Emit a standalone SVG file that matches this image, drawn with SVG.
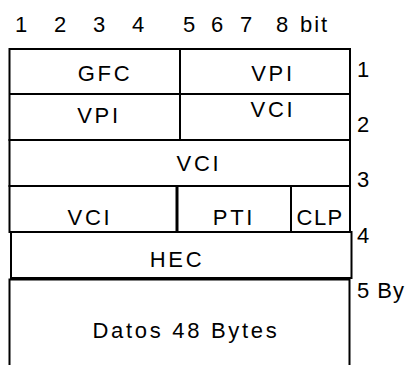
<svg xmlns="http://www.w3.org/2000/svg" width="413" height="365" viewBox="0 0 413 365">
<style>
  .box { fill: none; stroke: #000; stroke-width: 2; }
  .ln { stroke: #000; stroke-width: 2; fill: none; }
  .t { font-family: "Liberation Sans", Arial, sans-serif; font-size: 22px; fill: #000; }
  .c { text-anchor: middle; letter-spacing: 2.7px; }
</style>
<rect width="413" height="365" fill="#fff"/>
<g id="bit-scale" class="t">
  <text x="15" y="32">1</text>
  <text x="54" y="32">2</text>
  <text x="93" y="32">3</text>
  <text x="132" y="32">4</text>
  <text x="183" y="32">5</text>
  <text x="211" y="32">6</text>
  <text x="240" y="32">7</text>
  <text x="276" y="32">8</text>
  <text x="300" y="32" style="letter-spacing:2px">bit</text>
</g>
<g id="byte-scale" class="t">
  <text x="357" y="77">1</text>
  <text x="357" y="132">2</text>
  <text x="357" y="187">3</text>
  <text x="357" y="243">4</text>
  <text x="357" y="298" style="letter-spacing:1px">5 By</text>
</g>
<g id="row-1-2">
  <rect class="box" x="9.5" y="49" width="340.5" height="91"/>
  <line class="ln" x1="9.5" y1="94" x2="350" y2="94"/>
  <line class="ln" x1="180" y1="49" x2="180" y2="140"/>
</g>
<g id="gfc"><text class="t c" x="105" y="81">GFC</text></g>
<g id="vpi-1"><text class="t c" x="273" y="81">VPI</text></g>
<g id="vpi-2"><text class="t c" x="99" y="123">VPI</text></g>
<g id="vci-2"><text class="t c" x="273" y="117">VCI</text></g>
<g id="vci-3">
  <rect class="box" x="9.5" y="140" width="340.5" height="46"/>
  <text class="t c" x="199" y="171">VCI</text>
</g>
<g id="row-4">
  <rect class="box" x="9.5" y="186" width="340.5" height="46"/>
  <line class="ln" x1="177" y1="186" x2="177" y2="232" style="stroke-width:3"/>
  <line class="ln" x1="291" y1="186" x2="291" y2="232"/>
</g>
<g id="vci-4"><text class="t c" x="90" y="225">VCI</text></g>
<g id="pti"><text class="t c" x="234" y="225">PTI</text></g>
<g id="clp"><text class="t" x="296.5" y="225" style="letter-spacing:1.5px">CLP</text></g>
<g id="hec">
  <rect class="box" x="11" y="232" width="340.5" height="46"/>
  <text class="t c" x="177" y="267">HEC</text>
</g>
<g id="datos">
  <path class="ln" d="M9.5 366 V279.5 H349.5 V366"/>
  <text class="t c" x="186" y="338">Datos 48 Bytes</text>
</g>
</svg>
